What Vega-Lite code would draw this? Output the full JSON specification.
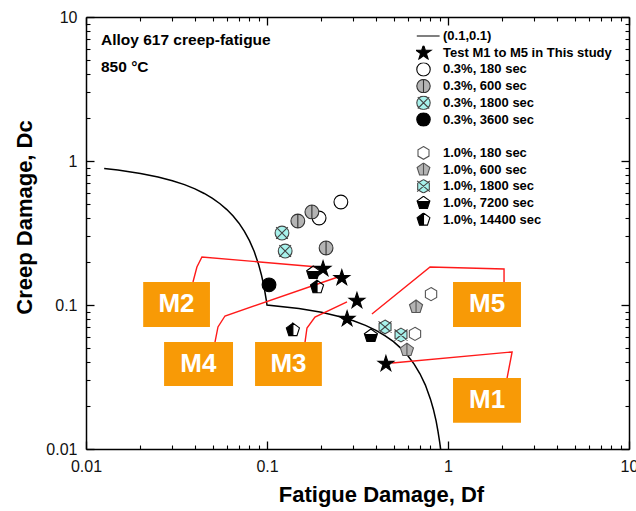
{
  "$schema": "https://vega.github.io/schema/vega-lite/v6.json",
  "width": 543,
  "height": 432,
  "autosize": {"type": "none"},
  "padding": {"left": 86, "top": 17, "right": 7, "bottom": 62},
  "background": "white",
  "config": {"view": {"stroke": null}, "font": "Liberation Sans"},
  "datasets": {
    "curve": [
      {"o": 1, "df": 0.0126, "dc": 0.8866},
      {"o": 2, "df": 0.015, "dc": 0.865},
      {"o": 3, "df": 0.02, "dc": 0.82},
      {"o": 4, "df": 0.025, "dc": 0.775},
      {"o": 5, "df": 0.03, "dc": 0.73},
      {"o": 6, "df": 0.035, "dc": 0.685},
      {"o": 7, "df": 0.04, "dc": 0.64},
      {"o": 8, "df": 0.045, "dc": 0.595},
      {"o": 9, "df": 0.05, "dc": 0.55},
      {"o": 10, "df": 0.055, "dc": 0.505},
      {"o": 11, "df": 0.06, "dc": 0.46},
      {"o": 12, "df": 0.065, "dc": 0.415},
      {"o": 13, "df": 0.07, "dc": 0.37},
      {"o": 14, "df": 0.075, "dc": 0.325},
      {"o": 15, "df": 0.08, "dc": 0.28},
      {"o": 16, "df": 0.085, "dc": 0.235},
      {"o": 17, "df": 0.09, "dc": 0.19},
      {"o": 18, "df": 0.093, "dc": 0.163},
      {"o": 19, "df": 0.095, "dc": 0.145},
      {"o": 20, "df": 0.097, "dc": 0.127},
      {"o": 21, "df": 0.099, "dc": 0.109},
      {"o": 22, "df": 0.1, "dc": 0.1},
      {"o": 23, "df": 0.15, "dc": 0.0944},
      {"o": 24, "df": 0.2, "dc": 0.0889},
      {"o": 25, "df": 0.25, "dc": 0.0833},
      {"o": 26, "df": 0.3, "dc": 0.0778},
      {"o": 27, "df": 0.35, "dc": 0.0722},
      {"o": 28, "df": 0.4, "dc": 0.0667},
      {"o": 29, "df": 0.45, "dc": 0.0611},
      {"o": 30, "df": 0.5, "dc": 0.0556},
      {"o": 31, "df": 0.55, "dc": 0.05},
      {"o": 32, "df": 0.6, "dc": 0.0444},
      {"o": 33, "df": 0.65, "dc": 0.0389},
      {"o": 34, "df": 0.7, "dc": 0.0333},
      {"o": 35, "df": 0.75, "dc": 0.0278},
      {"o": 36, "df": 0.8, "dc": 0.0222},
      {"o": 37, "df": 0.83, "dc": 0.0189},
      {"o": 38, "df": 0.86, "dc": 0.0156},
      {"o": 39, "df": 0.88, "dc": 0.0133},
      {"o": 40, "df": 0.9, "dc": 0.0111},
      {"o": 41, "df": 0.91, "dc": 0.01}
    ],
    "pts": [
      {"series": "Test M1 to M5 in This study", "df": 0.454, "dc": 0.039},
      {"series": "Test M1 to M5 in This study", "df": 0.204, "dc": 0.178},
      {"series": "Test M1 to M5 in This study", "df": 0.259, "dc": 0.154},
      {"series": "Test M1 to M5 in This study", "df": 0.314, "dc": 0.107},
      {"series": "Test M1 to M5 in This study", "df": 0.277, "dc": 0.08},
      {"series": "0.3%, 180  sec", "df": 0.256, "dc": 0.519},
      {"series": "0.3%, 180  sec", "df": 0.194, "dc": 0.402},
      {"series": "0.3%, 600 sec", "df": 0.177, "dc": 0.443},
      {"series": "0.3%, 600 sec", "df": 0.148, "dc": 0.383},
      {"series": "0.3%, 600 sec", "df": 0.212, "dc": 0.249},
      {"series": "0.3%, 1800 sec", "df": 0.121, "dc": 0.316},
      {"series": "0.3%, 1800 sec", "df": 0.126, "dc": 0.237},
      {"series": "0.3%, 3600  sec", "df": 0.1026, "dc": 0.138},
      {"series": "1.0%, 180  sec", "df": 0.806, "dc": 0.119},
      {"series": "1.0%, 180  sec", "df": 0.657, "dc": 0.063},
      {"series": "1.0%, 600  sec", "df": 0.666, "dc": 0.097},
      {"series": "1.0%, 600  sec", "df": 0.593, "dc": 0.0487},
      {"series": "1.0%, 1800  sec", "df": 0.449, "dc": 0.0704},
      {"series": "1.0%, 1800  sec", "df": 0.55, "dc": 0.0619},
      {"series": "1.0%, 7200  sec", "df": 0.18, "dc": 0.167},
      {"series": "1.0%, 7200  sec", "df": 0.375, "dc": 0.061},
      {"series": "1.0%, 14400  sec", "df": 0.189, "dc": 0.133},
      {"series": "1.0%, 14400  sec", "df": 0.139, "dc": 0.067}
    ],
    "boxes": [
      {"id": "M2", "x1": 0.0207, "x2": 0.0484, "y1": 0.1445, "y2": 0.0704, "lx": 0.0316, "ly": 0.101},
      {"id": "M4", "x1": 0.027, "x2": 0.0649, "y1": 0.0553, "y2": 0.0274, "lx": 0.0418, "ly": 0.0389},
      {"id": "M3", "x1": 0.0859, "x2": 0.201, "y1": 0.0553, "y2": 0.0274, "lx": 0.1315, "ly": 0.0389},
      {"id": "M5", "x1": 1.066, "x2": 2.53, "y1": 0.1445, "y2": 0.0704, "lx": 1.643, "ly": 0.101},
      {"id": "M1", "x1": 1.066, "x2": 2.53, "y1": 0.0311, "y2": 0.0152, "lx": 1.643, "ly": 0.0219}
    ],
    "leaders": [
      {"id": "M2", "o": 1, "df": 0.039, "dc": 0.1445},
      {"id": "M2", "o": 2, "df": 0.041, "dc": 0.1836},
      {"id": "M2", "o": 3, "df": 0.0437, "dc": 0.2154},
      {"id": "M2", "o": 4, "df": 0.1914, "dc": 0.1836},
      {"id": "M4", "o": 1, "df": 0.0516, "dc": 0.0553},
      {"id": "M4", "o": 2, "df": 0.0536, "dc": 0.0704},
      {"id": "M4", "o": 3, "df": 0.0586, "dc": 0.0839},
      {"id": "M4", "o": 4, "df": 0.2467, "dc": 0.1564},
      {"id": "M3", "o": 1, "df": 0.1622, "dc": 0.0553},
      {"id": "M3", "o": 2, "df": 0.1663, "dc": 0.0692},
      {"id": "M3", "o": 3, "df": 0.1841, "dc": 0.0825},
      {"id": "M3", "o": 4, "df": 0.2767, "dc": 0.105},
      {"id": "M5", "o": 1, "df": 2.04, "dc": 0.1445},
      {"id": "M5", "o": 2, "df": 2.04, "dc": 0.178},
      {"id": "M5", "o": 3, "df": 0.796, "dc": 0.1836},
      {"id": "M5", "o": 4, "df": 0.38, "dc": 0.0866},
      {"id": "M1", "o": 1, "df": 0.491, "dc": 0.0396},
      {"id": "M1", "o": 2, "df": 2.26, "dc": 0.0472},
      {"id": "M1", "o": 3, "df": 2.12, "dc": 0.0311}
    ],
    "notes": [
      {"text": "Alloy 617 creep-fatigue", "df": 0.0121, "dc": 6.92},
      {"text": "850 °C", "df": 0.0121, "dc": 4.5}
    ]
  },
  "resolve": {"axis": {"x": "independent", "y": "independent"}},
  "layer": [
    {
      "data": {"name": "curve"},
      "mark": {"type": "line", "color": "black", "strokeWidth": 1.5},
      "encoding": {
        "x": {
          "field": "df", "type": "quantitative",
          "scale": {"type": "log", "domain": [0.01, 10], "nice": false},
          "axis": {
            "orient": "bottom",
            "values": [0.01, 0.1, 1, 10],
            "format": "~g",
            "tickSize": -8,
            "grid": false,
            "domainColor": "black", "domainWidth": 1.5,
            "tickColor": "black", "tickWidth": 1.3,
            "labelFont": "Liberation Sans", "labelFontSize": 16, "labelColor": "#111",
            "labelPadding": 17, "labelFlush": false, "labelOverlap": false,
            "title": "Fatigue Damage, Df",
            "titleFont": "Liberation Sans", "titleFontSize": 22, "titleFontWeight": "bold", "titleColor": "black",
            "titlePadding": 10, "titleX": 295
          }
        },
        "y": {
          "field": "dc", "type": "quantitative",
          "scale": {"type": "log", "domain": [0.01, 10], "nice": false},
          "axis": {
            "orient": "left",
            "values": [0.01, 0.1, 1, 10],
            "format": "~g",
            "tickSize": -8,
            "grid": false,
            "domainColor": "black", "domainWidth": 1.5,
            "tickColor": "black", "tickWidth": 1.3,
            "labelFont": "Liberation Sans", "labelFontSize": 16, "labelColor": "#111",
            "labelPadding": 17, "labelFlush": false, "labelOverlap": false,
            "title": "Creep Damage, Dc",
            "titleFont": "Liberation Sans", "titleFontSize": 22, "titleFontWeight": "bold", "titleColor": "black",
            "titlePadding": 9, "titleY": 200
          }
        },
        "order": {"field": "o", "type": "quantitative"}
      }
    },
    {
      "data": {"name": "leaders"},
      "mark": {"type": "line", "color": "#ff1a1a", "strokeWidth": 1.4},
      "encoding": {
        "x": {
          "field": "df", "type": "quantitative",
          "axis": {
            "orient": "bottom",
            "values": [0.02,0.03,0.04,0.05,0.06,0.07,0.08,0.09,0.2,0.3,0.4,0.5,0.6,0.7,0.8,0.9,2,3,4,5,6,7,8,9],
            "labels": false, "title": null, "grid": false, "domain": false,
            "tickSize": -4, "tickColor": "black", "tickWidth": 1.1
          }
        },
        "y": {
          "field": "dc", "type": "quantitative",
          "axis": {
            "orient": "left",
            "values": [0.02,0.03,0.04,0.05,0.06,0.07,0.08,0.09,0.2,0.3,0.4,0.5,0.6,0.7,0.8,0.9,2,3,4,5,6,7,8,9],
            "labels": false, "title": null, "grid": false, "domain": false,
            "tickSize": -4, "tickColor": "black", "tickWidth": 1.1
          }
        },
        "detail": {"field": "id"},
        "order": {"field": "o", "type": "quantitative"}
      }
    },
    {
      "data": {"name": "boxes"},
      "mark": {"type": "rect", "color": "#f89a06"},
      "encoding": {
        "x": {
          "field": "x1", "type": "quantitative",
          "axis": {
            "orient": "top",
            "values": [0.02,0.03,0.04,0.05,0.06,0.07,0.08,0.09,0.2,0.3,0.4,0.5,0.6,0.7,0.8,0.9,2,3,4,5,6,7,8,9],
            "labels": false, "title": null, "grid": false, "domain": false,
            "tickSize": -4, "tickColor": "black", "tickWidth": 1.1
          }
        },
        "x2": {"field": "x2"},
        "y": {
          "field": "y1", "type": "quantitative",
          "axis": {
            "orient": "right",
            "values": [0.02,0.03,0.04,0.05,0.06,0.07,0.08,0.09,0.2,0.3,0.4,0.5,0.6,0.7,0.8,0.9,2,3,4,5,6,7,8,9],
            "labels": false, "title": null, "grid": false, "domain": false,
            "tickSize": -4, "tickColor": "black", "tickWidth": 1.1
          }
        },
        "y2": {"field": "y2"}
      }
    },
    {
      "data": {"name": "boxes"},
      "mark": {"type": "text", "color": "white", "font": "Liberation Sans", "fontSize": 26, "fontWeight": "bold", "align": "center", "baseline": "middle"},
      "encoding": {
        "x": {"field": "lx", "type": "quantitative", "axis": null},
        "y": {"field": "ly", "type": "quantitative", "axis": null},
        "text": {"field": "id"}
      }
    },
    {
      "data": {"name": "notes"},
      "mark": {"type": "text", "color": "black", "font": "Liberation Sans", "fontSize": 15.5, "fontWeight": "bold", "align": "left", "baseline": "middle"},
      "encoding": {
        "x": {"field": "df", "type": "quantitative", "axis": null},
        "y": {"field": "dc", "type": "quantitative", "axis": null},
        "text": {"field": "text"}
      }
    },
    {
      "data": {"name": "pts"},
      "mark": {"type": "point", "filled": true, "opacity": 1, "size": 190, "strokeWidth": 1.1},
      "encoding": {
        "x": {
          "field": "df", "type": "quantitative",
          "axis": {
            "orient": "top",
            "values": [0.01, 0.1, 1, 10],
            "labels": false, "title": null, "grid": false,
            "tickSize": -8,
            "domainColor": "black", "domainWidth": 1.5, "tickColor": "black", "tickWidth": 1.3
          }
        },
        "y": {
          "field": "dc", "type": "quantitative",
          "axis": {
            "orient": "right",
            "values": [0.01, 0.1, 1, 10],
            "labels": false, "title": null, "grid": false,
            "tickSize": -8,
            "domainColor": "black", "domainWidth": 1.5, "tickColor": "black", "tickWidth": 1.3
          }
        },
        "shape": {
          "field": "series", "type": "nominal",
          "scale": {
            "domain": ["(0.1,0.1)", "Test M1 to M5 in This study", "0.3%, 180  sec", "0.3%, 600 sec", "0.3%, 1800 sec", "0.3%, 3600  sec", " ", "1.0%, 180  sec", "1.0%, 600  sec", "1.0%, 1800  sec", "1.0%, 7200  sec", "1.0%, 14400  sec"],
            "range": [
              "M-1,0L2.4,0",
              "M0,-1.2L0.27,-0.372L1.141,-0.371L0.437,0.142L0.705,0.971L0,0.46L-0.705,0.971L-0.437,0.142L-1.141,-0.371L-0.27,-0.372Z",
              "M1,0A1,1,0,1,1,-1,0A1,1,0,1,1,1,0Z",
              "M1,0A1,1,0,1,1,-1,0A1,1,0,1,1,1,0ZM0,-1L0,1",
              "M1,0A1,1,0,1,1,-1,0A1,1,0,1,1,1,0ZM-0.85,-0.85L0.85,0.85M-0.85,0.85L0.85,-0.85",
              "M1,0A1,1,0,1,1,-1,0A1,1,0,1,1,1,0Z",
              "M0,0",
              "M0,-0.95L0.82,-0.475L0.82,0.475L0,0.95L-0.82,0.475L-0.82,-0.475Z",
              "M0,-1L0.951,-0.309L0.588,0.809L-0.588,0.809L-0.951,-0.309ZM0,-1L0,0.809",
              "M0,-1L0.866,-0.5L0.866,0.5L0,1L-0.866,0.5L-0.866,-0.5ZM-0.95,-0.8L0.95,0.8M-0.95,0.8L0.95,-0.8",
              "M0,-1L0.951,-0.309L0.588,0.809L-0.588,0.809L-0.951,-0.309ZM0,-1L-0.951,-0.309L-0.916,-0.2L0.916,-0.2L0.951,-0.309Z",
              "M0,-1L0.951,-0.309L0.588,0.809L-0.588,0.809L-0.951,-0.309ZM0,-1L0,0.809L0.588,0.809L0.951,-0.309Z"
            ]
          },
          "legend": {"orient": "none", "legendX": 330, "legendY": 12, "title": null, "padding": 0, "symbolSize": 180, "symbolStrokeWidth": 1.1, "labelFont": "Liberation Sans", "labelFontSize": 13, "labelFontWeight": "bold", "labelColor": "black", "labelOffset": 12, "rowPadding": 2.7, "clipHeight": 14, "labelLimit": 300}
        },
        "fill": {
          "field": "series", "type": "nominal",
          "scale": {
            "domain": ["(0.1,0.1)", "Test M1 to M5 in This study", "0.3%, 180  sec", "0.3%, 600 sec", "0.3%, 1800 sec", "0.3%, 3600  sec", " ", "1.0%, 180  sec", "1.0%, 600  sec", "1.0%, 1800  sec", "1.0%, 7200  sec", "1.0%, 14400  sec"],
            "range": ["transparent", "black", "white", "#b4b4b4", "#a8f2ec", "black", "transparent", "white", "#b4b4b4", "#a8f2ec", "black", "black"]
          },
          "legend": {"orient": "none", "legendX": 330, "legendY": 12, "title": null, "padding": 0, "symbolSize": 180, "symbolStrokeWidth": 1.1, "labelFont": "Liberation Sans", "labelFontSize": 13, "labelFontWeight": "bold", "labelColor": "black", "labelOffset": 12, "rowPadding": 2.7, "clipHeight": 14, "labelLimit": 300}
        },
        "stroke": {
          "field": "series", "type": "nominal",
          "scale": {
            "domain": ["(0.1,0.1)", "Test M1 to M5 in This study", "0.3%, 180  sec", "0.3%, 600 sec", "0.3%, 1800 sec", "0.3%, 3600  sec", " ", "1.0%, 180  sec", "1.0%, 600  sec", "1.0%, 1800  sec", "1.0%, 7200  sec", "1.0%, 14400  sec"],
            "range": ["black", "black", "black", "#333", "#444", "black", "transparent", "#555", "#555", "#444", "black", "black"]
          },
          "legend": {"orient": "none", "legendX": 330, "legendY": 12, "title": null, "padding": 0, "symbolSize": 180, "symbolStrokeWidth": 1.1, "labelFont": "Liberation Sans", "labelFontSize": 13, "labelFontWeight": "bold", "labelColor": "black", "labelOffset": 12, "rowPadding": 2.7, "clipHeight": 14, "labelLimit": 300}
        }
      }
    }
  ]
}
